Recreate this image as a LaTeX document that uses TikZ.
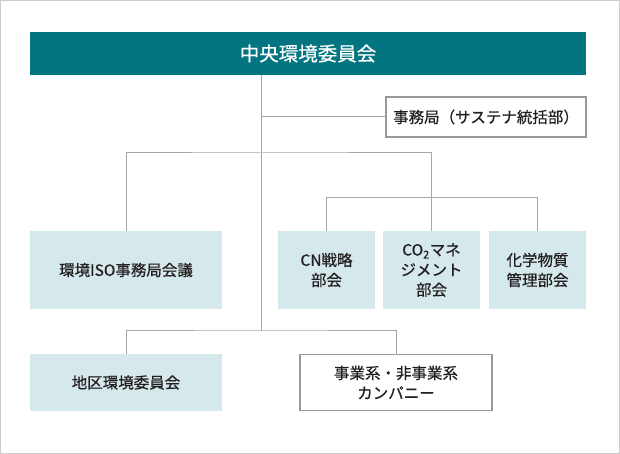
\documentclass[tikz,border=0pt]{standalone}
\usepackage{fontspec}
\setmainfont{Noto Sans CJK JP}[FakeBold=0.6]
\definecolor{teal}{HTML}{037580}
\definecolor{boxblue}{HTML}{D5E8EC}
\definecolor{linegray}{HTML}{A6A6A6}
\definecolor{bordergray}{HTML}{999999}
\definecolor{framegray}{HTML}{CCCCCC}
\definecolor{txt}{HTML}{231F20}
\newcommand\hdfont{\fontsize{19.5}{24}\selectfont}
\newcommand\bdfont{\fontsize{15.5}{20}\selectfont}
\begin{document}
\begin{tikzpicture}[x=1pt,y=-1pt,
  base/.style={anchor=north west,inner sep=0pt,outer sep=0pt,align=center,text=txt,font=\bdfont},
  blk/.style={base,fill=boxblue},
  wbox/.style={base,draw=bordergray,line width=1.2pt,fill=white},
  head/.style={base,fill=teal,text=white,font=\hdfont},
  conn/.style={draw=linegray,line width=1pt}]
\useasboundingbox (0,0) rectangle (620,454);
\draw[framegray,line width=1pt] (0.5,0.5) rectangle (619.5,453.5);
% nodes
\node[head,minimum width=556pt,minimum height=43pt] (head) at (30,32) {中央環境委員会};
\node[wbox,minimum width=200pt,minimum height=40pt] (sec) at (386,97) {事務局（サステナ統括部）};
\node[blk,minimum width=192pt,minimum height=78pt] (iso) at (30,231) {環境ISO事務局会議};
\node[blk,minimum width=97pt,minimum height=78pt] (cn) at (278,231) {CN戦略\\部会};
\node[blk,minimum width=97pt,minimum height=78pt] (co2) at (383,231) {CO\textsubscript{2}マネ\\ジメント\\部会};
\node[blk,minimum width=97pt,minimum height=78pt] (chem) at (489,231) {化学物質\\管理部会};
\node[blk,minimum width=192pt,minimum height=57pt] (chiku) at (30,354) {地区環境委員会};
\node[wbox,minimum width=192pt,minimum height=56pt] (jigyo) at (300,354.5) {事業系・非事業系\\カンパニー};
% junctions
\coordinate (trunktop) at (261,75);
\coordinate (trunkbot) at (261,330);
\coordinate (j1) at (261,153);
\coordinate (j2) at (431,197.5);
% connectors
\draw[conn] (trunktop) -- (trunkbot);
\draw[conn] (trunktop |- sec.west) -- (sec.west);
\draw[conn] (iso.north) |- (j1) -| (co2.north);
\draw[conn] (cn.north) |- (j2) -| (chem.north);
\draw[conn] (chiku.north) |- (trunkbot) -| (jigyo.north);
\end{tikzpicture}
\end{document}
